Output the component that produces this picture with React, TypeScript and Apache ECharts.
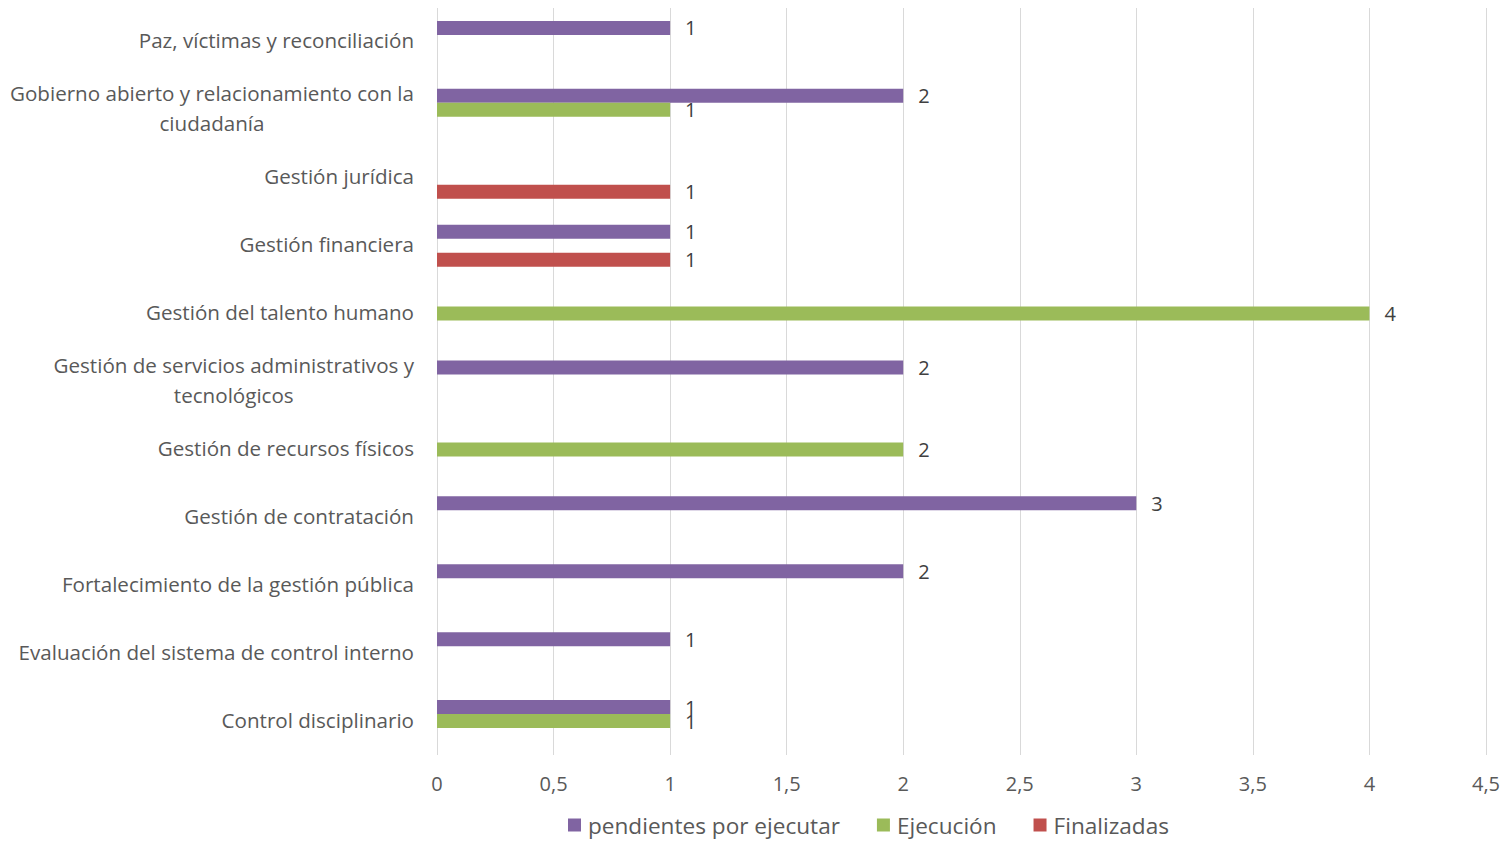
import React, { useEffect, useRef } from "react";
import * as echarts from "echarts";

const categories = [
  "Paz, víctimas y reconciliación",
  "Gobierno abierto y relacionamiento con la\nciudadanía",
  "Gestión jurídica",
  "Gestión financiera",
  "Gestión del talento humano",
  "Gestión de servicios administrativos y\ntecnológicos",
  "Gestión de recursos físicos",
  "Gestión de contratación",
  "Fortalecimiento de la gestión pública",
  "Evaluación del sistema de control interno",
  "Control disciplinario",
];

const pendientes = [1, 2, null, 1, null, 2, null, 3, 2, 1, 1];
const ejecucion = [null, 1, null, null, 4, null, 2, null, null, null, 1];
const finalizadas = [null, null, 1, 1, null, null, null, null, null, null, null];

const seriesNames = ["pendientes por ejecutar", "Ejecución", "Finalizadas"];
const seriesColors = ["#8064A2", "#9BBB59", "#C0504D"];

const FONT = "'Open Sans', sans-serif";
const TEXT = "#595959";

export default function App() {
  const ref = useRef<HTMLDivElement>(null);
  useEffect(() => {
    if (!ref.current) return;
    const chart = echarts.init(ref.current, null, { renderer: "svg" });
    const mk = (name: string, data: (number | null)[], color: string) => ({
      name,
      type: "bar",
      data,
      barWidth: 14,
      barGap: "0%",
      itemStyle: { color },
      label: {
        show: true,
        position: "right",
        distance: 15,
        color: "#404040",
        fontFamily: FONT,
        fontSize: 20,
      },
    });
    chart.setOption({
      animation: false,
      textStyle: { fontFamily: FONT },
      grid: { left: 437, right: 17, top: 8, bottom: 86, containLabel: false },
      legend: {
        left: 563,
        top: 808,
        padding: 5,
        itemWidth: 13,
        itemHeight: 13,
        itemGap: 37,
        icon: "rect",
        data: seriesNames,
        textStyle: {
          color: TEXT,
          fontFamily: FONT,
          fontSize: 22.6,
          lineHeight: 24,
          padding: [0, 0, 0, 2],
        },
      },
      xAxis: {
        type: "value",
        min: 0,
        max: 4.5,
        interval: 0.5,
        axisLine: { show: false },
        axisTick: { show: false },
        splitLine: { show: true, lineStyle: { color: "#D9D9D9", width: 1 } },
        axisLabel: {
          color: TEXT,
          fontFamily: FONT,
          fontSize: 20,
          margin: 18,
          formatter: (v: number) => String(v).replace(".", ","),
        },
      },
      yAxis: {
        type: "category",
        inverse: true,
        data: categories,
        axisLine: { show: false },
        axisTick: { show: false },
        axisLabel: {
          margin: 23,
          color: TEXT,
          fontFamily: FONT,
          fontSize: 20.6,
          lineHeight: 30,
          formatter: (v: string) =>
            v
              .split("\n")
              .map((l) => `{c|${l}}`)
              .join("\n"),
          rich: {
            c: {
              align: "center",
              color: TEXT,
              fontFamily: FONT,
              fontSize: 20.6,
              lineHeight: 30,
              padding: [0, 0, 3, 0],
            },
          },
        },
      },
      series: [
        mk(seriesNames[0], pendientes, seriesColors[0]),
        mk(seriesNames[1], ejecucion, seriesColors[1]),
        mk(seriesNames[2], finalizadas, seriesColors[2]),
      ],
    });
    return () => chart.dispose();
  }, []);
  return (
    <div
      ref={ref}
      style={{ position: "fixed", left: 0, top: 0, width: 1503, height: 841, background: "#fff" }}
    />
  );
}
